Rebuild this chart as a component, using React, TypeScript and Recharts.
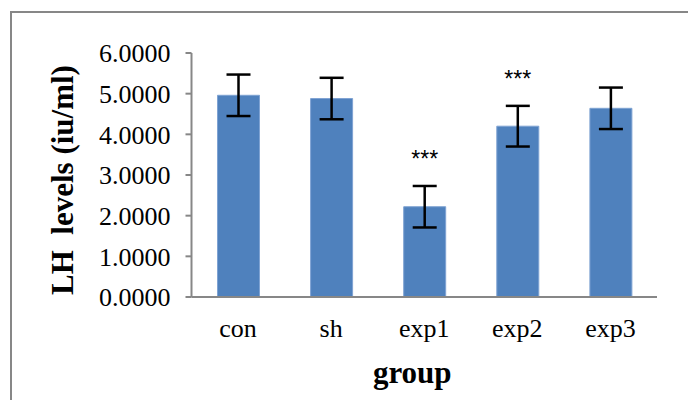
import { BarChart, Bar, XAxis, YAxis, ErrorBar, LabelList, Label } from 'recharts';

const groups = ['con', 'sh', 'exp1', 'exp2', 'exp3'];
const means = [4.96, 4.88, 2.22, 4.2, 4.64];
const errs = [0.51, 0.51, 0.51, 0.5, 0.51];
const sig = ['', '', '***', '***', ''];
const yTicks = [0, 1, 2, 3, 4, 5, 6];

const data = groups.map((g, i) => ({ group: g, lh: means[i], err: errs[i], sig: sig[i] }));

const SERIF = '"Liberation Serif", "Times New Roman", serif';
const AXIS = '#878787';

function Stars(props: any) {
  const { x, y, width, height, value, index } = props;
  if (!value) return null;
  // error bar top, in pixels, from the bar's own scale
  const errPx = (errs[index] * height) / means[index];
  const cy = y - errPx - 31;
  return (
    <text
      x={x + width / 2}
      y={cy + 12}
      textAnchor="middle"
      fontFamily='"Liberation Sans", Arial, sans-serif'
      fontSize={23}
      fill="#000"
    >
      {value}
    </text>
  );
}

function YTitle(props: any) {
  const { viewBox } = props;
  const cx = 73;
  const cy = viewBox.y + viewBox.height / 2 + 5;
  return (
    <text
      x={cx}
      y={cy}
      transform={`rotate(-90 ${cx} ${cy})`}
      textAnchor="middle"
      fontFamily={SERIF}
      fontWeight="bold"
      fontSize={31}
      fill="#000"
      style={{ whiteSpace: 'pre' }}
    >
      {'LH  levels (iu/ml)'}
    </text>
  );
}

export default function App() {
  return (
    <div style={{ position: 'absolute', left: 0, top: 0, width: 688, height: 400, overflow: 'hidden', background: '#fff' }}>
      <div
        style={{
          position: 'absolute',
          left: 10,
          top: 11,
          width: 720,
          height: 430,
          border: `2px solid ${AXIS}`,
        }}
      />
      <div style={{ position: 'absolute', left: 0, top: 0 }}>
        <BarChart width={688} height={400} data={data} margin={{ top: 53, right: 31, bottom: 0, left: 0 }}>
          <XAxis
            dataKey="group"
            height={103}
            tickLine={false}
            tickSize={0}
            tickMargin={22}
            axisLine={{ stroke: AXIS, strokeWidth: 2 }}
            tick={{ fontSize: 26, fontFamily: SERIF, fill: '#000' }}
            interval={0}
          >
            <Label
              value="group"
              position="insideBottom"
              offset={17}
              dx={-12}
              style={{ fontSize: 31, fontFamily: SERIF, fontWeight: 'bold', fill: '#000' }}
            />
          </XAxis>
          <YAxis
            width={191.5}
            domain={[0, 6]}
            ticks={yTicks}
            interval={0}
            tickSize={6}
            tickMargin={15}
            tickFormatter={(v: number) => v.toFixed(4)}
            axisLine={{ stroke: AXIS, strokeWidth: 2 }}
            tickLine={{ stroke: AXIS, strokeWidth: 2 }}
            tick={{ fontSize: 26, fontFamily: SERIF, fill: '#000' }}
          >
            <Label content={<YTitle />} />
          </YAxis>
          <Bar dataKey="lh" fill="#4F81BD" stroke="#7fa3d3" strokeWidth={1} barSize={42} isAnimationActive={false}>
            <ErrorBar dataKey="err" width={12} stroke="#000" strokeWidth={2.5} direction="y" />
            <LabelList dataKey="sig" content={<Stars />} />
          </Bar>
        </BarChart>
      </div>
    </div>
  );
}
